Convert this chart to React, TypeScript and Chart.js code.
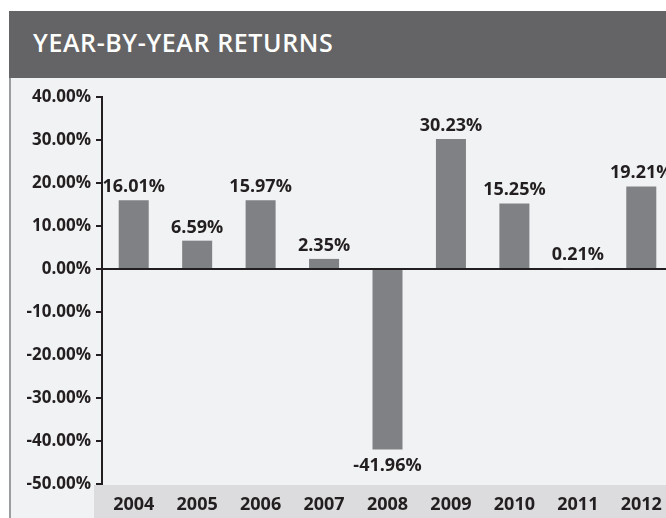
import React, { useEffect, useRef } from "react";
import { Chart, registerables } from "chart.js";

Chart.register(...registerables);

const TITLE = "YEAR-BY-YEAR RETURNS";
const YEARS = ["2004", "2005", "2006", "2007", "2008", "2009", "2010", "2011", "2012"];
const RETURNS = [16.01, 6.59, 15.97, 2.35, -41.96, 30.23, 15.25, 0.21, 19.21];
const Y_MIN = -50;
const Y_MAX = 40;
const Y_STEP = 10;

const TEXT = "#231f20";
const BAR = "#808184";
const HEADER = "#646466";
const PANEL = "#f1f2f4";
const BAND = "#dcdcde";
const FONT = "'Open Sans', sans-serif";

export default function App() {
  const ref = useRef<HTMLCanvasElement | null>(null);

  useEffect(() => {
    if (!ref.current) return;
    const bandPlugin = {
      id: "band",
      beforeDraw(chart: any) {
        const { ctx, chartArea } = chart;
        ctx.save();
        ctx.fillStyle = BAND;
        ctx.fillRect(94, chartArea.bottom + 1, chart.width - 94, chart.height - chartArea.bottom);
        ctx.restore();
      },
    };
    const labelPlugin = {
      id: "valueLabels",
      afterDatasetsDraw(chart: any) {
        const { ctx } = chart;
        const meta = chart.getDatasetMeta(0);
        ctx.save();
        ctx.fillStyle = TEXT;
        ctx.font = `700 18px ${FONT}`;
        ctx.textAlign = "center";
        ctx.textBaseline = "alphabetic";
        meta.data.forEach((el: any, i: number) => {
          const v = RETURNS[i];
          const txt = v.toFixed(2) + "%";
          if (v >= 0) ctx.fillText(txt, el.x, el.y - 8);
          else ctx.fillText(txt, el.x, el.y + 22);
        });
        ctx.restore();
      },
    };
    const chart = new Chart(ref.current, {
      type: "bar",
      data: {
        labels: YEARS,
        datasets: [
          {
            data: RETURNS,
            backgroundColor: BAR,
            barPercentage: 0.473,
            categoryPercentage: 1,
          },
        ],
      },
      options: {
        responsive: false,
        animation: false,
        layout: { padding: { top: 19, right: 17, left: 0, bottom: 0 } },
        plugins: { legend: { display: false }, tooltip: { enabled: false } },
        scales: {
          x: {
            grid: { display: false },
            border: { display: false },
            ticks: {
              color: TEXT,
              font: { family: FONT, size: 18, weight: "bold" },
              padding: 2,
              maxRotation: 0,
            },
            afterFit(scale: any) {
              scale.height = 34;
            },
          },
          y: {
            min: Y_MIN,
            max: Y_MAX,
            ticks: {
              stepSize: Y_STEP,
              color: TEXT,
              font: { family: FONT, size: 17, weight: "bold" },
              padding: 5,
              callback: (v: any) => Number(v).toFixed(2) + "%",
            },
            grid: {
              drawOnChartArea: true,
              drawTicks: true,
              tickLength: 6,
              color: (c: any) => (c.tick && c.tick.value === 0 ? TEXT : "rgba(0,0,0,0)"),
              tickColor: TEXT,
              lineWidth: 2,
              tickWidth: 2,
            },
            border: { display: true, color: TEXT, width: 2 },
            afterFit(scale: any) {
              scale.width = 102;
            },
          },
        },
      },
      plugins: [bandPlugin, labelPlugin],
    });
    return () => chart.destroy();
  }, []);

  return (
    <div
      style={{
        position: "fixed",
        left: 0,
        top: 0,
        width: 666,
        height: 518,
        overflow: "hidden",
        background: "#ffffff",
      }}
    >
      <div
        style={{
          position: "absolute",
          left: 9,
          top: 11,
          width: 700,
          height: 67,
          background: HEADER,
        }}
      >
        <div
          style={{
            position: "absolute",
            left: 24,
            top: 19,
            lineHeight: "25px",
            fontFamily: FONT,
            fontWeight: 600,
            fontSize: 25,
            letterSpacing: 0.6,
            color: "#ffffff",
            whiteSpace: "nowrap",
          }}
        >
          {TITLE}
        </div>
      </div>
      <div
        style={{
          position: "absolute",
          left: 9,
          top: 78,
          width: 700,
          height: 440,
          background: PANEL,
          borderLeft: "2px solid #9c9d9f",
          boxSizing: "border-box",
        }}
      />
      <canvas
        ref={ref}
        width={690}
        height={440}
        style={{ position: "absolute", left: 0, top: 78, display: "block" }}
      />
    </div>
  );
}
